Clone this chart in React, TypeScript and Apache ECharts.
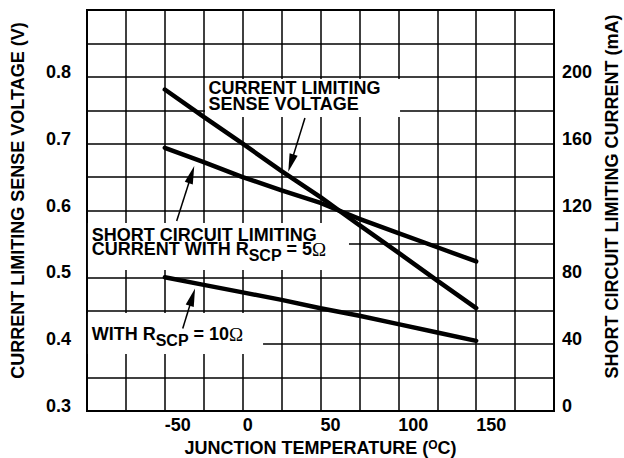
import React, { useEffect, useRef } from 'react';
import * as echarts from 'echarts';

// ---- data ----
const temperatures = [-50, -25, 0, 25, 50, 75, 100, 125, 150];
const senseVoltage = [0.781, 0.74, 0.7, 0.659, 0.62, 0.578, 0.537, 0.495, 0.454];
const current5Ohm = [157.5, 149, 140, 132, 124.5, 115, 106.5, 98, 89.5];
const current10Ohm = [80, 75.5, 71, 66.5, 61.5, 57, 52, 47, 42];

const xTickLabels = [-50, 0, 50, 100, 150];
const leftTickLabels = [0.3, 0.4, 0.5, 0.6, 0.7, 0.8];
const rightTickLabels = [0, 40, 80, 120, 160, 200];

const FONT = '"Liberation Sans", Arial, Helvetica, sans-serif';
const SERIF = '"Liberation Serif", "Times New Roman", serif';

const pair = (xs: number[], ys: number[]) => xs.map((x, i) => [x, ys[i]]);

type Seg = { text: string; size: number; family: string; weight: string; dy: number };
const main = (text: string): Seg => ({ text, size: 18, family: FONT, weight: 'bold', dy: 0 });
const sub = (text: string): Seg => ({ text, size: 16, family: FONT, weight: 'bold', dy: 6 });
const omega = (): Seg => ({ text: 'Ω', size: 19, family: SERIF, weight: 'normal', dy: 0.5 });

export default function App() {
  const ref = useRef<HTMLDivElement>(null);

  useEffect(() => {
    const chart = echarts.init(ref.current!, null, { renderer: 'svg' });
    const lineSeries = (name: string, data: number[][], yAxisIndex: number) => ({
      name,
      type: 'line',
      yAxisIndex,
      data,
      showSymbol: false,
      symbol: 'none',
      z: 10,
      lineStyle: { color: '#000', width: 4.5, cap: 'round' },
    });
    const labelStyle = { color: '#000', fontFamily: FONT, fontWeight: 'bold', fontSize: 18 };

    chart.setOption({
      animation: false,
      backgroundColor: '#fff',
      grid: {
        left: 87,
        right: 70,
        top: 10,
        bottom: 47,
        show: true,
        borderColor: '#000',
        borderWidth: 2,
        backgroundColor: 'transparent',
        outerBoundsMode: 'none',
      },
      xAxis: {
        type: 'value',
        min: -100,
        max: 200,
        interval: 25,
        axisLine: { show: false },
        axisTick: { show: false },
        splitLine: { show: true, lineStyle: { color: '#000', width: 1.5 } },
        axisLabel: {
          ...labelStyle,
          margin: 5,
          align: 'left',
          formatter: (v: number) => (xTickLabels.includes(v) ? String(v) : ''),
        },
        name: '{a|JUNCTION TEMPERATURE (}{sup|O}{a|C)}',
        nameLocation: 'middle',
        nameGap: 19,
        nameTextStyle: {
          rich: {
            a: { ...labelStyle, lineHeight: 18 },
            sup: { ...labelStyle, fontSize: 12, lineHeight: 9, verticalAlign: 'top' },
          },
        },
      },
      yAxis: [
        {
          type: 'value',
          min: 0.3,
          max: 0.9,
          interval: 0.05,
          axisLine: { show: false },
          axisTick: { show: false },
          splitLine: { show: true, lineStyle: { color: '#000', width: 1.5 } },
          axisLabel: {
            ...labelStyle,
            margin: 16,
            verticalAlign: 'bottom',
            lineHeight: 10,
            formatter: (v: number) => {
              const hit = leftTickLabels.find((t) => Math.abs(t - v) < 1e-6);
              return hit === undefined ? '' : hit.toFixed(1);
            },
          },
          name: 'CURRENT LIMITING SENSE VOLTAGE (V)',
          nameLocation: 'middle',
          nameRotate: 90,
          nameGap: 60,
          nameTextStyle: { ...labelStyle, padding: [0, 0, 0, 20] },
        },
        {
          type: 'value',
          min: 0,
          max: 240,
          interval: 20,
          position: 'right',
          axisLine: { show: false },
          axisTick: { show: false },
          splitLine: { show: false },
          axisLabel: {
            ...labelStyle,
            margin: 8,
            verticalAlign: 'bottom',
            lineHeight: 10,
            formatter: (v: number) => (rightTickLabels.includes(v) ? String(v) : ''),
          },
          name: 'SHORT CIRCUIT LIMITING CURRENT (mA)',
          nameLocation: 'middle',
          nameRotate: 90,
          nameGap: 46,
          nameTextStyle: { ...labelStyle, padding: [0, 0, 0, 28] },
        },
      ],
      series: [
        lineSeries('Current Limiting Sense Voltage', pair(temperatures, senseVoltage), 0),
        lineSeries('Short Circuit Limiting Current, Rscp = 5Ω', pair(temperatures, current5Ohm), 1),
        lineSeries('Short Circuit Limiting Current, Rscp = 10Ω', pair(temperatures, current10Ohm), 1),
      ],
    });

    // ---- annotations, placed in data coordinates (°C, V) ----
    const px = (t: number, v: number) =>
      chart.convertToPixel({ xAxisIndex: 0, yAxisIndex: 0 }, [t, v]) as number[];

    const canvas = document.createElement('canvas');
    const ctx = canvas.getContext('2d')!;
    const fontOf = (s: Seg) => `${s.weight} ${s.size}px ${s.family}`;
    const measure = (s: Seg) => {
      ctx.font = fontOf(s);
      return ctx.measureText(s.text).width;
    };

    const boxes = [
      [-24.2, 0.7967, 101.1, 0.7399],
      [-99.4, 0.5813, 68.3, 0.511],
      [-99.4, 0.4466, 13.1, 0.3853],
    ];
    const arrows = [
      [40.0, 0.7384, 29.3, 0.658],
      [-42.4, 0.5843, -31.1, 0.6666],
      [-38.5, 0.4234, -30.6, 0.4833],
    ];
    const notes: { at: number[]; pitch: number; lines: Seg[][] }[] = [
      {
        at: [-21.95, 0.783],
        pitch: 15.5,
        lines: [[main('CURRENT LIMITING')], [main('SENSE VOLTAGE')]],
      },
      {
        at: [-96.98, 0.5637],
        pitch: 14.5,
        lines: [
          [main('SHORT CIRCUIT LIMITING')],
          [main('CURRENT WITH R'), sub('SCP'), main(' = 5'), omega()],
        ],
      },
      {
        at: [-96.98, 0.4145],
        pitch: 14.5,
        lines: [[main('WITH R'), sub('SCP'), main(' = 10'), omega()]],
      },
    ];

    const elements: any[] = [];
    boxes.forEach(([t1, v1, t2, v2]) => {
      const [x1, y1] = px(t1, v1);
      const [x2, y2] = px(t2, v2);
      elements.push({
        type: 'rect',
        z: 5,
        silent: true,
        shape: { x: x1, y: y1, width: x2 - x1, height: y2 - y1 },
        style: { fill: '#fff' },
      });
    });
    arrows.forEach(([t1, v1, t2, v2]) => {
      const [x1, y1] = px(t1, v1);
      const [x2, y2] = px(t2, v2);
      const len = Math.hypot(x2 - x1, y2 - y1);
      const dx = (x2 - x1) / len;
      const dy = (y2 - y1) / len;
      const headLen = 18;
      const half = 4.2;
      const bx = x2 - dx * headLen;
      const by = y2 - dy * headLen;
      elements.push({
        type: 'line',
        z: 6,
        silent: true,
        shape: { x1, y1, x2: bx + dx * 2, y2: by + dy * 2 },
        style: { stroke: '#000', lineWidth: 1.5 },
      });
      elements.push({
        type: 'polygon',
        z: 6,
        silent: true,
        shape: {
          points: [
            [x2, y2],
            [bx - dy * half, by + dx * half],
            [bx + dy * half, by - dx * half],
          ],
        },
        style: { fill: '#000' },
      });
    });
    notes.forEach(({ at, pitch, lines }) => {
      const [x0, y0] = px(at[0], at[1]);
      lines.forEach((segs, li) => {
        let x = x0;
        const yc = y0 + li * pitch;
        segs.forEach((s) => {
          elements.push({
            type: 'text',
            z: 7,
            silent: true,
            x,
            y: yc + s.dy,
            style: {
              text: s.text,
              font: fontOf(s),
              fill: '#000',
              align: 'left',
              verticalAlign: 'middle',
            },
          });
          x += measure(s);
        });
      });
    });
    chart.setOption({ graphic: { elements } });

    return () => chart.dispose();
  }, []);

  return (
    <div
      ref={ref}
      style={{ position: 'fixed', left: 0, top: 0, width: 624, height: 458, background: '#fff' }}
    />
  );
}
